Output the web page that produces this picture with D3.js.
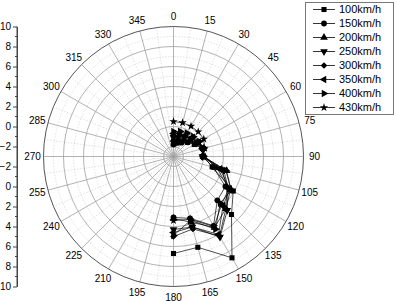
<!DOCTYPE html>
<html>
<head>
<meta charset="utf-8">
<script src="https://cdn.jsdelivr.net/npm/d3@7"></script>
<style>
  body { margin: 0; background: #fff; }
  text { font-family: Arial, "Liberation Sans", sans-serif; fill: #000; }
</style>
</head>
<body>
<script>
// angles (deg, clockwise from top) where every series is sampled
const angles = [0, 15, 30, 45, 60, 75, 90, 105, 120, 135, 150, 165, 180];

const speeds = ['100km/h', '150km/h', '200km/h', '250km/h', '300km/h', '350km/h', '400km/h', '430km/h'];

const v100 = [-1.6, -1.5, -1.3, -1.0, -0.6, 0.1, 0.0, 1.0, 3.9, 5.2, 8.7, 6.4, 6.7];
const v150 = [-1.8, -1.6, -1.4, -1.0, -0.5, 0.0, -0.1, 1.1, 3.0, 3.2, 5.0, 3.4, 3.1];
const v200 = [-1.3, -1.2, -1.0, -0.7, -0.3, 0.1, 0.0, 2.5, 3.6, 4.4, 5.2, 3.8, 3.2];
const v250 = [-1.1, -1.0, -0.8, -0.5, -0.2, 0.0, -0.1, 2.2, 3.3, 4.6, 6.3, 4.3, 4.3];
const v300 = [-0.9, -0.8, -0.7, -0.4, -0.2, 0.1, 0.0, 2.0, 3.2, 4.4, 6.2, 4.5, 5.0];
const v350 = [-0.7, -0.6, -0.5, -0.3, -0.1, 0.0, 0.0, 1.8, 3.5, 4.0, 6.0, 4.3, 4.6];
const v400 = [-0.5, -0.4, -0.3, -0.2, 0.0, 0.1, 0.0, 2.4, 3.7, 3.6, 5.4, 3.6, 4.9];
const v430 = [0.5, 0.5, 0.5, 0.5, 0.5, 0.2, 0.0, 1.5, 3.4, 3.8, 5.1, 3.5, 3.4];

const seriesValues = [v100, v150, v200, v250, v300, v350, v400, v430];

const angleTicks = d3.range(0, 360, 15);
const radialTicks = [-2, 0, 2, 4, 6, 8, 10];

const width = 396, height = 301;
const cx = 173.5, cy = 156.5;
const R = 130;

const svg = d3.select('body').append('svg')
  .attr('width', width)
  .attr('height', height);

const r = d3.scaleLinear().domain([-3, 10]).range([0, R]);
const rad = a => (a - 90) * Math.PI / 180;
const px = (a, v) => cx + r(v) * Math.cos(rad(a));
const py = (a, v) => cy + r(v) * Math.sin(rad(a));

const grid = svg.append('g').attr('id', 'grid');

// minor dotted circles
grid.selectAll('circle.minor')
  .data(d3.range(-2, 10, 1).filter(d => !radialTicks.includes(d)))
  .enter().append('circle')
  .attr('cx', cx).attr('cy', cy)
  .attr('r', d => r(d))
  .attr('fill', 'none')
  .attr('stroke', '#ccc')
  .attr('stroke-width', 0.6)
  .attr('stroke-dasharray', '1.5,1.5');

// minor dotted spokes
grid.selectAll('line.minor')
  .data(d3.range(7.5, 360, 15))
  .enter().append('line')
  .attr('x1', cx).attr('y1', cy)
  .attr('x2', d => px(d, 10)).attr('y2', d => py(d, 10))
  .attr('stroke', '#ccc')
  .attr('stroke-width', 0.6)
  .attr('stroke-dasharray', '1.5,1.5');

// major circles
grid.selectAll('circle.major')
  .data(radialTicks.slice(0, -1))
  .enter().append('circle')
  .attr('cx', cx).attr('cy', cy)
  .attr('r', d => r(d))
  .attr('fill', 'none')
  .attr('stroke', '#a0a0a0')
  .attr('stroke-width', 0.8);

// major spokes
grid.selectAll('line.major')
  .data(angleTicks)
  .enter().append('line')
  .attr('x1', cx).attr('y1', cy)
  .attr('x2', d => px(d, 10)).attr('y2', d => py(d, 10))
  .attr('stroke', '#a0a0a0')
  .attr('stroke-width', 0.8);

// outer circle
grid.append('circle')
  .attr('cx', cx).attr('cy', cy).attr('r', R)
  .attr('fill', 'none')
  .attr('stroke', '#555')
  .attr('stroke-width', 1);

// angle labels
svg.append('g').selectAll('text')
  .data(angleTicks)
  .enter().append('text')
  .attr('x', d => cx + (R + 11) * Math.cos(rad(d)))
  .attr('y', d => cy + (R + 10.5) * Math.sin(rad(d)))
  .attr('dy', '0.35em')
  .attr('text-anchor', 'middle')
  .attr('font-size', 10)
  .text(d => d);

// left radial axis, mirrored above and below the centre
const yTop = d3.scaleLinear().domain([-3, 10]).range([cy, cy - R]);
const yBot = d3.scaleLinear().domain([-3, 10]).range([cy, cy + R]);
const axisX = 17;

[yTop, yBot].forEach(s => {
  const g = svg.append('g')
    .attr('transform', `translate(${axisX},0)`)
    .call(d3.axisLeft(s).tickValues(radialTicks).tickSize(4).tickSizeOuter(0).tickPadding(2));
  g.select('.domain').attr('stroke', '#444');
  g.selectAll('.tick line').attr('stroke', '#444');
  g.selectAll('.tick text').attr('font-size', 10).attr('font-family', 'Arial, "Liberation Sans", sans-serif');
  g.selectAll('line.minor')
    .data(d3.range(-1, 10, 2))
    .enter().append('line')
    .attr('x1', 0).attr('x2', -2)
    .attr('y1', d => s(d)).attr('y2', d => s(d))
    .attr('stroke', '#444');
});
svg.append('line')
  .attr('x1', axisX).attr('x2', axisX)
  .attr('y1', cy - R).attr('y2', cy + R)
  .attr('stroke', '#444');

// markers
const tri = d3.symbol().type(d3.symbolTriangle).size(26)();
const markers = [
  { path: d3.symbol().type(d3.symbolSquare).size(26)(), rot: 0 },
  { path: d3.symbol().type(d3.symbolCircle).size(26)(), rot: 0 },
  { path: tri, rot: 0 },
  { path: tri, rot: 180 },
  { path: d3.symbol().type(d3.symbolSquare).size(22)(), rot: 45 },
  { path: tri, rot: -90 },
  { path: tri, rot: 90 },
  { path: d3.symbol().type(d3.symbolStar).size(22)(), rot: 0 }
];

const line = d3.line()
  .x(d => px(d.a, d.v))
  .y(d => py(d.a, d.v));

const plot = svg.append('g').attr('id', 'series');
seriesValues.forEach((vals, i) => {
  const pts = vals.map((v, j) => ({ a: angles[j], v: v }));
  const g = plot.append('g');
  g.append('path')
    .attr('d', line(pts))
    .attr('fill', 'none')
    .attr('stroke', '#000')
    .attr('stroke-width', 0.7);
  g.selectAll('path.m')
    .data(pts)
    .enter().append('path')
    .attr('class', 'm')
    .attr('d', markers[i].path)
    .attr('transform', d => `translate(${px(d.a, d.v)},${py(d.a, d.v)}) rotate(${markers[i].rot})`)
    .attr('fill', '#000');
});

// legend
const legend = svg.append('g').attr('id', 'legend');
legend.append('rect')
  .attr('x', 305.5).attr('y', 2.5)
  .attr('width', 88).attr('height', 112)
  .attr('fill', '#fff')
  .attr('stroke', '#777');

const rows = legend.selectAll('g.row')
  .data(speeds)
  .enter().append('g')
  .attr('transform', (d, i) => `translate(0,${9.5 + i * 14})`);
rows.append('line')
  .attr('x1', 313).attr('x2', 335)
  .attr('stroke', '#000').attr('stroke-width', 0.8);
rows.append('path')
  .attr('d', (d, i) => markers[i].path)
  .attr('transform', (d, i) => `translate(324,0) rotate(${markers[i].rot})`)
  .attr('fill', '#000');
rows.append('text')
  .attr('x', 339)
  .attr('dy', '0.36em')
  .attr('font-size', 11)
  .text(d => d);
</script>
</body>
</html>
